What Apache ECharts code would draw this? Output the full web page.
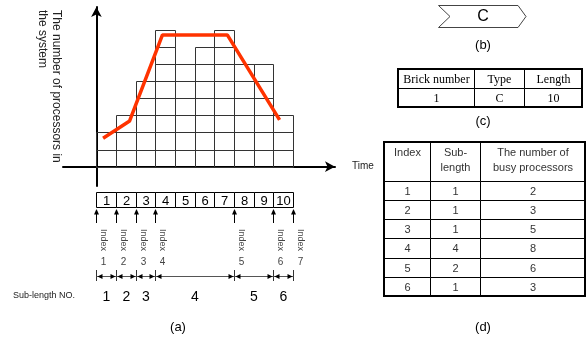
<!DOCTYPE html>
<html><head><meta charset="utf-8">
<script src="https://cdn.jsdelivr.net/npm/echarts@6/dist/echarts.min.js"></script>
<style>html,body{margin:0;padding:0;background:#fff}#c{width:587px;height:347px}</style>
</head><body><div id="c"></div>
<script>
// ---------------- data ----------------
const slotNumbers = [1, 2, 3, 4, 5, 6, 7, 8, 9, 10];
const processorsPerSlot = [2, 3, 5, 8, 6, 7, 8, 6, 6, 3];
const trendX = [0.34, 1.69, 3.36, 6.66, 9.32];
const trendY = [1.66, 2.67, 7.7, 7.7, 2.73];
const indexLabels = [1, 2, 3, 4, 5, 6, 7];
const subLengthNo = [1, 2, 3, 4, 5, 6];
const subLengths = [1, 1, 1, 4, 2, 1];
const busyProcessors = [2, 3, 5, 8, 6, 3];
const brickHeaders = ['Brick number', 'Type', 'Length'];
const brickRow = ['1', 'C', '10'];
const tableDHeaders = ['Index', 'Sub-\nlength', 'The number of\nbusy processors'];

// ---------------- derived ----------------
const FONT = 'Liberation Sans, Arial, sans-serif';
const SERIF = 'Liberation Serif, Times New Roman, serif';
const cells = [];
processorsPerSlot.forEach((h, c) => { for (let k = 0; k < h; k++) cells.push([c, k]); });
const indexPos = [0];
subLengths.forEach(l => indexPos.push(indexPos[indexPos.length - 1] + l));
const X_MIN = -1.7, X_MAX = 12.14, Y_MIN = -1.13, Y_MAX = 9.33;
const D_COLS = [0, 46, 96, 201];
const C_COLS = [0, 76, 126, 184];
const cr = v => Math.round(v) + 0.5;

const dItems = [], dTexts = [];
tableDHeaders.forEach((t, c) => { dItems.push([c, 0, 2]); dTexts.push(t); });
subLengthNo.forEach((idx, r) => {
  [idx, subLengths[r], busyProcessors[r]].forEach((v, c) => { dItems.push([c, r + 2, 1]); dTexts.push(String(v)); });
});
const cItems = [], cTexts = [];
brickHeaders.forEach((t, c) => { cItems.push([c, 0, 1]); cTexts.push(t); });
brickRow.forEach((t, c) => { cItems.push([c, 1, 1]); cTexts.push(t); });

function tableRenderer(cols, texts, font, color, headerTop) {
  return function (params, api) {
    const c = api.value(0), r = api.value(1), sp = api.value(2);
    const a = api.coord([cols[c], r]), b = api.coord([cols[c + 1], r + sp]);
    const x0 = cr(a[0]), y0 = cr(a[1]), x1 = cr(b[0]), y1 = cr(b[1]);
    const isHead = headerTop && r === 0;
    return {
      type: 'group', children: [
        { type: 'rect', shape: { x: x0, y: y0, width: x1 - x0, height: y1 - y0 }, style: { fill: '#fff', stroke: '#000', lineWidth: 1 } },
        { type: 'text', x: (x0 + x1) / 2, y: isHead ? y0 + 3 : (y0 + y1) / 2 + 0.5,
          style: { text: texts[params.dataIndex], fontSize: font.size, fontFamily: font.family, fill: color,
                   align: 'center', verticalAlign: isHead ? 'top' : 'middle', lineHeight: 15 } }
      ]
    };
  };
}
function borderRenderer(w, h) {
  return function (params, api) {
    const a = api.coord([0, 0]), b = api.coord([w, h]);
    return { type: 'rect', shape: { x: Math.round(a[0]), y: Math.round(a[1]), width: Math.round(b[0]) - Math.round(a[0]), height: Math.round(b[1]) - Math.round(a[1]) },
             style: { fill: 'none', stroke: '#000', lineWidth: 2 } };
  };
}

const chart = echarts.init(document.getElementById('c'));
const hidden = { show: false };
const option = {
  animation: false,
  backgroundColor: '#fff',
  grid: [
    { left: 63, top: 7, width: 272, height: 179 },
    { left: 63, top: 186, width: 272, height: 114 },
    { left: 384, top: 142, width: 201, height: 154 },
    { left: 398, top: 69, width: 184, height: 38 }
  ],
  xAxis: [
    { gridIndex: 0, type: 'value', min: X_MIN, max: X_MAX,
      axisLine: { show: true, onZero: true, symbol: ['none', 'arrow'], symbolSize: [8, 10], lineStyle: { color: '#000', width: 2 } },
      axisTick: hidden, axisLabel: hidden, splitLine: hidden,
      name: 'Time', nameLocation: 'end', nameGap: 17,
      nameTextStyle: { fontSize: 10, fontFamily: FONT, color: '#222' } },
    { gridIndex: 1, type: 'value', min: X_MIN, max: X_MAX, show: false },
    { gridIndex: 2, type: 'value', min: 0, max: 201, show: false },
    { gridIndex: 3, type: 'value', min: 0, max: 184, show: false }
  ],
  yAxis: [
    { gridIndex: 0, type: 'value', min: Y_MIN, max: Y_MAX,
      axisLine: { show: true, onZero: true, symbol: ['none', 'arrow'], symbolSize: [8, 10], lineStyle: { color: '#000', width: 2 } },
      axisTick: hidden, axisLabel: hidden, splitLine: hidden },
    { gridIndex: 1, type: 'value', min: 0, max: 114, inverse: true, show: false },
    { gridIndex: 2, type: 'value', min: 0, max: 8, inverse: true, show: false },
    { gridIndex: 3, type: 'value', min: 0, max: 2, inverse: true, show: false }
  ],
  series: [
    { type: 'custom', name: 'cells', xAxisIndex: 0, yAxisIndex: 0, data: cells, z: 1,
      renderItem: function (params, api) {
        const c = api.value(0), k = api.value(1);
        const a = api.coord([c, k + 1]), b = api.coord([c + 1, k]);
        const x0 = cr(a[0]), y0 = cr(a[1]), x1 = cr(b[0]), y1 = cr(b[1]);
        return { type: 'rect', shape: { x: x0, y: y0, width: x1 - x0, height: y1 - y0 },
                 style: { fill: 'none', stroke: '#333', lineWidth: 1 } };
      } },
    { type: 'line', name: 'trend', xAxisIndex: 0, yAxisIndex: 0, z: 5,
      data: trendX.map((x, i) => [x, trendY[i]]), showSymbol: false, symbol: 'none',
      lineStyle: { color: '#ff3300', width: 3.5 } },
    { type: 'custom', name: 'slots', xAxisIndex: 1, yAxisIndex: 1,
      data: slotNumbers.map((n, i) => [i, n]),
      renderItem: function (params, api) {
        const i = api.value(0), n = api.value(1);
        const a = api.coord([i, 6]), b = api.coord([i + 1, 21]);
        const x0 = cr(a[0]), y0 = cr(a[1]), x1 = cr(b[0]), y1 = cr(b[1]);
        return { type: 'group', children: [
          { type: 'rect', shape: { x: x0, y: y0, width: x1 - x0, height: y1 - y0 }, style: { fill: '#fff', stroke: '#000', lineWidth: 1 } },
          { type: 'text', x: (x0 + x1) / 2, y: (y0 + y1) / 2 + 1, style: { text: String(n), fontSize: 13, fontFamily: FONT, fill: '#000', align: 'center', verticalAlign: 'middle' } }
        ] };
      } },
    { type: 'custom', name: 'index', xAxisIndex: 1, yAxisIndex: 1,
      data: indexPos.map((p, k) => [p, indexLabels[k]]),
      renderItem: function (params, api) {
        const p = api.value(0), lbl = api.value(1);
        const x = cr(api.coord([p, 0])[0]);
        const yTip = api.coord([p, 23])[1], yB = api.coord([p, 37])[1];
        return { type: 'group', children: [
          { type: 'line', shape: { x1: x, y1: yTip + 4, x2: x, y2: yB }, style: { stroke: '#000', lineWidth: 1 } },
          { type: 'polygon', shape: { points: [[x, yTip], [x - 2.5, yTip + 5.5], [x + 2.5, yTip + 5.5]] }, style: { fill: '#000' } },
          { type: 'text', x: x + 7, y: api.coord([p, 43])[1], rotation: -Math.PI / 2,
            style: { text: 'Index', fontSize: 9, fontFamily: FONT, fill: '#444', align: 'left', verticalAlign: 'middle' } },
          { type: 'text', x: x + 7, y: api.coord([p, 76])[1],
            style: { text: String(lbl), fontSize: 10, fontFamily: FONT, fill: '#444', align: 'center', verticalAlign: 'middle' } }
        ] };
      } },
    { type: 'custom', name: 'spans', xAxisIndex: 1, yAxisIndex: 1,
      data: subLengths.map((l, k) => [indexPos[k], indexPos[k + 1], subLengthNo[k]]),
      renderItem: function (params, api) {
        const s = api.value(0), e = api.value(1), no = api.value(2);
        const xs = cr(api.coord([s, 0])[0]), xe = cr(api.coord([e, 0])[0]);
        const yT = api.coord([s, 84])[1], yBt = api.coord([s, 95])[1], yM = cr(api.coord([s, 89.5])[1]);
        return { type: 'group', children: [
          { type: 'line', shape: { x1: xs, y1: yT, x2: xs, y2: yBt }, style: { stroke: '#333', lineWidth: 1 } },
          { type: 'line', shape: { x1: xe, y1: yT, x2: xe, y2: yBt }, style: { stroke: '#333', lineWidth: 1 } },
          { type: 'line', shape: { x1: xs, y1: yM, x2: xe, y2: yM }, style: { stroke: '#555', lineWidth: 1 } },
          { type: 'polygon', shape: { points: [[xs + 1, yM], [xs + 6, yM - 2.5], [xs + 6, yM + 2.5]] }, style: { fill: '#000' } },
          { type: 'polygon', shape: { points: [[xe - 1, yM], [xe - 6, yM - 2.5], [xe - 6, yM + 2.5]] }, style: { fill: '#000' } },
          { type: 'text', x: (xs + xe) / 2, y: api.coord([s, 111])[1],
            style: { text: String(no), fontSize: 14, fontFamily: FONT, fill: '#000', align: 'center', verticalAlign: 'middle' } }
        ] };
      } },
    { type: 'custom', name: 'tableD', xAxisIndex: 2, yAxisIndex: 2, data: dItems,
      renderItem: tableRenderer(D_COLS, dTexts, { size: 11, family: FONT }, '#333', true) },
    { type: 'custom', name: 'tableDBorder', xAxisIndex: 2, yAxisIndex: 2, data: [[0]], z: 3,
      renderItem: borderRenderer(201, 8) },
    { type: 'custom', name: 'tableC', xAxisIndex: 3, yAxisIndex: 3, data: cItems,
      renderItem: tableRenderer(C_COLS, cTexts, { size: 12, family: SERIF }, '#000', false) },
    { type: 'custom', name: 'tableCBorder', xAxisIndex: 3, yAxisIndex: 3, data: [[0]], z: 3,
      renderItem: borderRenderer(184, 2) }
  ],
  graphic: [
    { type: 'text', x: 63, y: 10, rotation: -Math.PI / 2,
      style: { text: 'The number of processors in\nthe system', fontSize: 12, fontFamily: FONT, fill: '#222', align: 'left', verticalAlign: 'top', lineHeight: 14 } },
    { type: 'text', x: 13, y: 296, style: { text: 'Sub-length NO.', fontSize: 9, fontFamily: FONT, fill: '#222', align: 'left', verticalAlign: 'middle' } },
    { type: 'text', x: 178, y: 327, style: { text: '(a)', fontSize: 13, fontFamily: FONT, fill: '#000', align: 'center', verticalAlign: 'middle' } },
    { type: 'polygon', shape: { points: [[438.5, 5.5], [518, 5.5], [526, 16.5], [518, 27.5], [438.5, 27.5], [450, 16.5]] },
      style: { fill: '#fff', stroke: '#444', lineWidth: 1 } },
    { type: 'text', x: 483, y: 17, style: { text: 'C', fontSize: 16, fontFamily: FONT, fill: '#000', align: 'center', verticalAlign: 'middle' } },
    { type: 'text', x: 483, y: 45, style: { text: '(b)', fontSize: 13, fontFamily: FONT, fill: '#000', align: 'center', verticalAlign: 'middle' } },
    { type: 'text', x: 483, y: 121, style: { text: '(c)', fontSize: 13, fontFamily: FONT, fill: '#000', align: 'center', verticalAlign: 'middle' } },
    { type: 'text', x: 483, y: 327, style: { text: '(d)', fontSize: 13, fontFamily: FONT, fill: '#000', align: 'center', verticalAlign: 'middle' } }
  ]
};
chart.setOption(option);
</script>
</body></html>
